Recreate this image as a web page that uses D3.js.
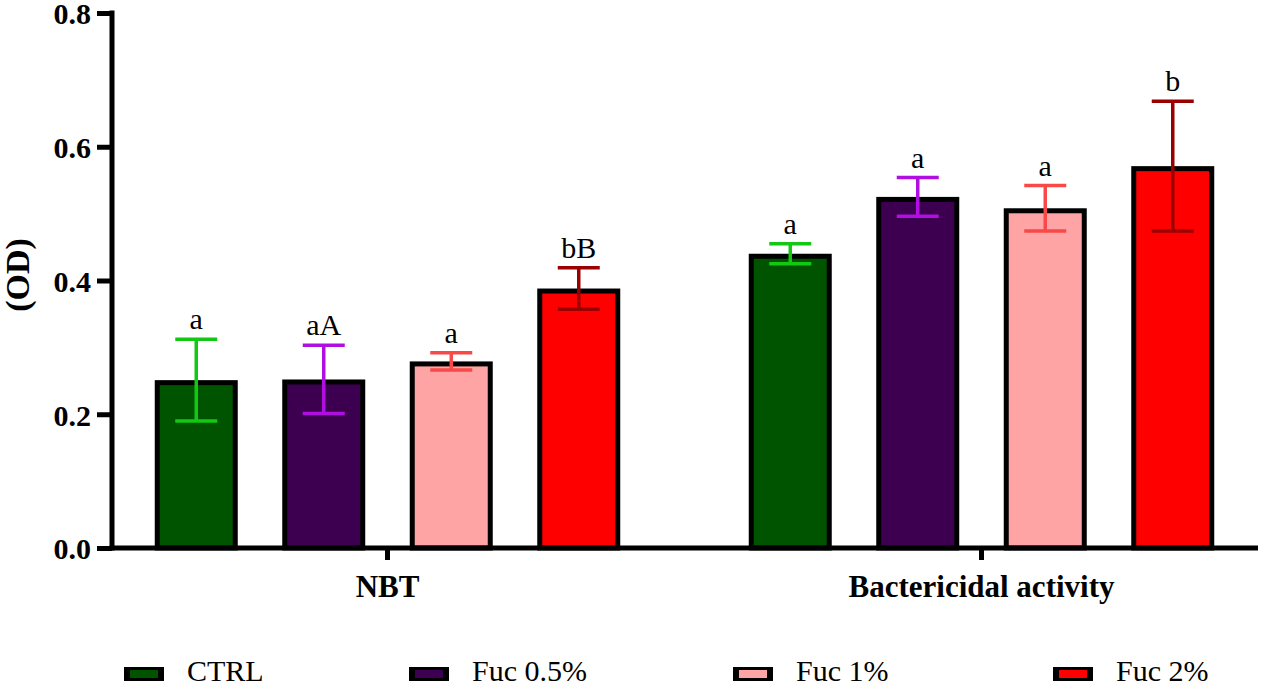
<!DOCTYPE html>
<html>
<head>
<meta charset="utf-8">
<script src="https://cdn.jsdelivr.net/npm/d3@7"></script>
<style>
  html, body { margin: 0; padding: 0; background: #fff; }
  svg { display: block; }
</style>
</head>
<body>
<svg id="chart" width="1264" height="689"></svg>
<script>
// ---- data ----
const groups = ["NBT", "Bactericidal activity"];
const series = ["CTRL", "Fuc 0.5%", "Fuc 1%", "Fuc 2%"];
const nbtMeans = [0.251, 0.252, 0.279, 0.388];
const nbtSD = [0.061, 0.051, 0.013, 0.031];
const nbtLetters = ["a", "aA", "a", "bB"];
const bactMeans = [0.440, 0.525, 0.508, 0.571];
const bactSD = [0.015, 0.029, 0.034, 0.097];
const bactLetters = ["a", "a", "a", "b"];
const yTicks = [0.0, 0.2, 0.4, 0.6, 0.8];

// ---- styles ----
const FONT = "Liberation Serif";
const fillColors = ["#005400", "#3d0050", "#ffa4a4", "#ff0000"];
const errColors = ["#12c812", "#b10fe2", "#f84848", "#9b0000"];

const table = [
  { group: groups[0], means: nbtMeans, sd: nbtSD, letters: nbtLetters },
  { group: groups[1], means: bactMeans, sd: bactSD, letters: bactLetters }
];
const rows = [];
table.forEach(g => series.forEach((s, i) => rows.push({
  group: g.group, series: s, idx: i, mean: g.means[i], sd: g.sd[i], letter: g.letters[i]
})));

const svg = d3.select("#chart");
const yBase = 548, yTop = 13;
const y = d3.scaleLinear().domain([0, 0.8]).range([yBase, yTop]);
const x0 = d3.scaleBand().domain(groups).range([90.5, 1278.5]).padding(0);
const x1 = d3.scaleBand().domain(series).range([42, 552]).paddingInner(0.349).paddingOuter(0.1745);
const bw = x1.bandwidth();
const sw = 5;

// bars
svg.append("g").selectAll("rect").data(rows).join("rect")
  .attr("x", d => x0(d.group) + x1(d.series) + sw / 2)
  .attr("y", d => y(d.mean) + sw / 2)
  .attr("width", bw - sw)
  .attr("height", d => yBase - y(d.mean) - sw / 2)
  .attr("fill", d => fillColors[d.idx])
  .attr("stroke", "#000")
  .attr("stroke-width", sw);

// error bars
const capW = 42;
const eb = svg.append("g").attr("stroke-width", 3.5).attr("fill", "none");
rows.forEach(d => {
  const cx = x0(d.group) + x1(d.series) + bw / 2;
  const col = errColors[d.idx];
  const yh = y(d.mean + d.sd), yl = y(d.mean - d.sd);
  eb.append("line").attr("x1", cx).attr("x2", cx).attr("y1", yh).attr("y2", yl).attr("stroke", col);
  eb.append("line").attr("x1", cx - capW / 2).attr("x2", cx + capW / 2).attr("y1", yh).attr("y2", yh).attr("stroke", col);
  eb.append("line").attr("x1", cx - capW / 2).attr("x2", cx + capW / 2).attr("y1", yl).attr("y2", yl).attr("stroke", col);
});

// significance letters
svg.append("g").selectAll("text").data(rows).join("text")
  .attr("x", d => x0(d.group) + x1(d.series) + bw / 2)
  .attr("y", d => y(d.mean + d.sd) - 10)
  .attr("text-anchor", "middle")
  .attr("font-family", FONT)
  .attr("font-size", 30)
  .attr("fill", "#000")
  .text(d => d.letter);

// y axis
const yAxis = d3.axisLeft(y).tickValues(yTicks).tickFormat(d3.format(".1f")).tickSize(15).tickPadding(6);
const gy = svg.append("g").attr("transform", "translate(112,0)").call(yAxis);
gy.select(".domain").remove();
gy.selectAll(".tick line").attr("stroke", "#000").attr("stroke-width", 5);
gy.selectAll(".tick text").attr("font-family", FONT).attr("font-weight", "bold")
  .attr("font-size", 30).attr("fill", "#000").attr("dy", "0.36em");
svg.append("line").attr("x1", 112).attr("x2", 112).attr("y1", yTop - 2.5).attr("y2", yBase + 2.5)
  .attr("stroke", "#000").attr("stroke-width", 5);

// x axis
svg.append("line").attr("x1", 109.5).attr("x2", 1258).attr("y1", yBase).attr("y2", yBase)
  .attr("stroke", "#000").attr("stroke-width", 5);
const xAxis = d3.axisBottom(x0).tickSize(10).tickPadding(15);
const gx = svg.append("g").attr("transform", `translate(0,${yBase + 2})`).call(xAxis);
gx.select(".domain").remove();
gx.selectAll(".tick line").attr("stroke", "#000").attr("stroke-width", 5);
gx.selectAll(".tick text").attr("font-family", FONT).attr("font-weight", "bold")
  .attr("font-size", 31).attr("fill", "#000").attr("dy", "0.71em");

// y title
svg.append("text").attr("transform", "translate(29,275) rotate(-90)")
  .attr("text-anchor", "middle").attr("font-family", FONT).attr("font-weight", "bold")
  .attr("font-size", 34).attr("fill", "#000").text("(OD)");

// legend
const legX = [124, 409, 733, 1053];
const leg = svg.append("g");
series.forEach((s, i) => {
  const g = leg.append("g").attr("transform", `translate(${legX[i]},667)`);
  g.append("rect").attr("x", 0).attr("y", 0).attr("width", 40).attr("height", 14).attr("fill", "#000");
  g.append("rect").attr("x", 6).attr("y", 3).attr("width", 28).attr("height", 8).attr("fill", fillColors[i]);
  g.append("text").attr("x", 63).attr("y", 14).attr("font-family", FONT)
    .attr("font-size", 30).attr("fill", "#000").text(s);
});
</script>
</body>
</html>
